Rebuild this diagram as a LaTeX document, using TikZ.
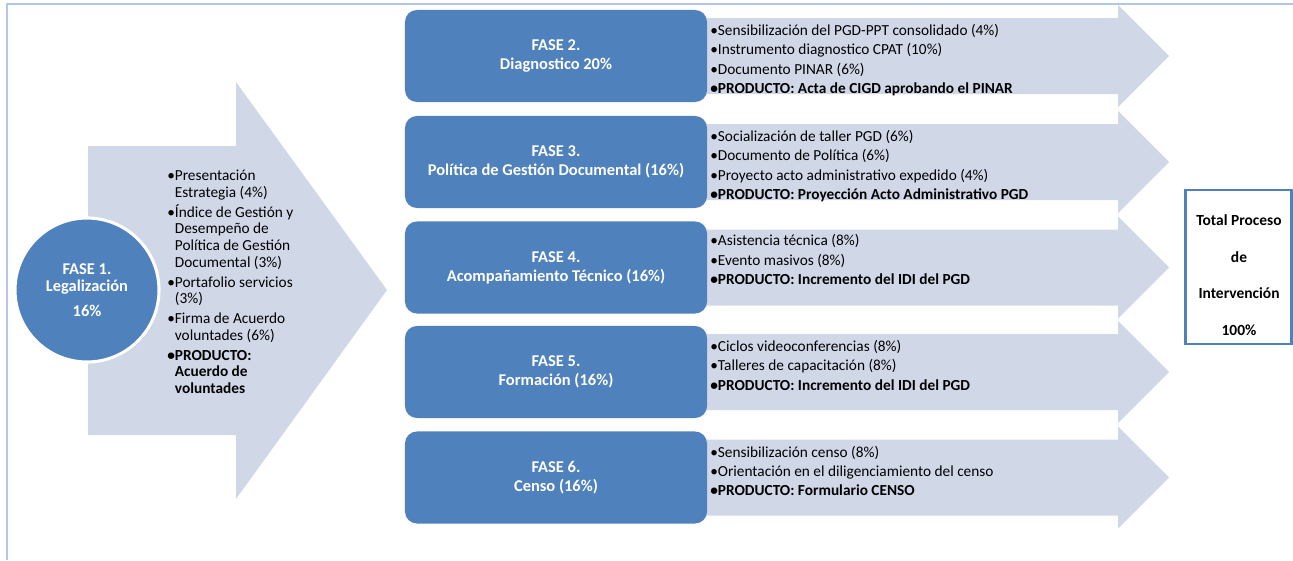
\documentclass[tikz,border=0pt]{standalone}
\usepackage{fontspec}
\setmainfont{Carlito}
\usetikzlibrary{positioning, shadows}
\definecolor{fasefill}{HTML}{4F81BD}
\definecolor{flecha}{HTML}{D0D8E8}
\definecolor{marco}{HTML}{B4C6E7}

\begin{document}
\begin{tikzpicture}[x=0.025cm, y=-0.025cm,
  every node/.style={font=\fontsize{10.9}{13.8}\selectfont},
  fase/.style={fill=fasefill, rounded corners=0.3cm, minimum width=7.55cm,
    minimum height=2.3cm, text=white, align=center,
    font=\fontsize{11.7}{13.6}\selectfont\bfseries},
  items/.style={anchor=north west, inner sep=0pt, align=left}]
  \useasboundingbox (0,0) rectangle (1293,560);
  % marco
  \draw[marco, line width=1.4pt] (7,560) -- (7,4) -- (1293,4);
  % flecha grande
  \fill[flecha] (88,146) -- (236,146) -- (236,82) -- (387,290) -- (236,499)
    -- (236,435) -- (88,435) -- cycle;
  % flechas de las fases
  \foreach \cy in {56,162,267.5,372,477.5}
    \fill[flecha] (690,\cy-38) -- (1118,\cy-38) -- (1118,\cy-51) -- (1169,\cy)
      -- (1118,\cy+51) -- (1118,\cy+38) -- (690,\cy+38) -- cycle;

  \node[circle, fill=fasefill, draw=white, line width=2.2pt, minimum size=3.6cm,
    drop shadow={shadow xshift=0.8pt, shadow yshift=-0.8pt, fill=black!45},
    text=white, align=center, font=\fontsize{11.7}{12.2}\selectfont\bfseries]
    (fase1) at (87,290) {FASE 1.\\Legalización\\[5pt]16\%};
  \node[items, font=\fontsize{10.9}{11.8}\selectfont] (items1) at (167,170) {%
    •Presentación\\\phantom{•}Estrategia (4\%)\\[2.4pt]
    •Índice de Gestión y\\\phantom{•}Desempeño de\\\phantom{•}Política de Gestión\\\phantom{•}Documental (3\%)\\[2.4pt]
    •Portafolio servicios\\\phantom{•}(3\%)\\[2.4pt]
    •Firma de Acuerdo\\\phantom{•}voluntades (6\%)\\[2.4pt]
    \textbf{•PRODUCTO:}\\\phantom{•}\textbf{Acuerdo de}\\\phantom{•}\textbf{voluntades}};

  \node[fase] (fase2) at (556,56) {FASE 2.\\Diagnostico 20\%};
  \node[fase] (fase3) at (556,162) {FASE 3.\\Política de Gestión Documental (16\%)};
  \node[fase] (fase4) at (556,267.5) {FASE 4.\\Acompañamiento Técnico (16\%)};
  \node[fase] (fase5) at (556,372) {FASE 5.\\Formación (16\%)};
  \node[fase] (fase6) at (556,477.5) {FASE 6.\\Censo (16\%)};

  \node[items] (items2) at (710,24) {•Sensibilización del PGD-PPT consolidado (4\%)\\
    •Instrumento diagnostico CPAT (10\%)\\•Documento PINAR (6\%)\\
    \textbf{•PRODUCTO: Acta de CIGD aprobando el PINAR}};
  \node[items] (items3) at (710,130) {•Socialización de taller PGD (6\%)\\
    •Documento de Política (6\%)\\•Proyecto acto administrativo expedido (4\%)\\
    \textbf{•PRODUCTO: Proyección Acto Administrativo PGD}};
  \node[items] (items4) at (710,234.5) {•Asistencia técnica (8\%)\\•Evento masivos (8\%)\\
    \textbf{•PRODUCTO: Incremento del IDI del PGD}};
  \node[items] (items5) at (710,340) {•Ciclos videoconferencias (8\%)\\
    •Talleres de capacitación (8\%)\\
    \textbf{•PRODUCTO: Incremento del IDI del PGD}};
  \node[items] (items6) at (710,445.5) {•Sensibilización censo (8\%)\\
    •Orientación en el diligenciamiento del censo\\
    \textbf{•PRODUCTO: Formulario CENSO}};

  \node[draw=fasefill, line width=1.6pt, minimum width=2.65cm, minimum height=3.85cm]
    (total) at (1238.5,267) {};
  \node[align=center, font=\fontsize{11}{13}\selectfont\bfseries]
    (totaltxt) at (1239,275) {Total Proceso\\[13pt]de\\[13pt]Intervención\\[13pt]100\%};
\end{tikzpicture}
\end{document}
